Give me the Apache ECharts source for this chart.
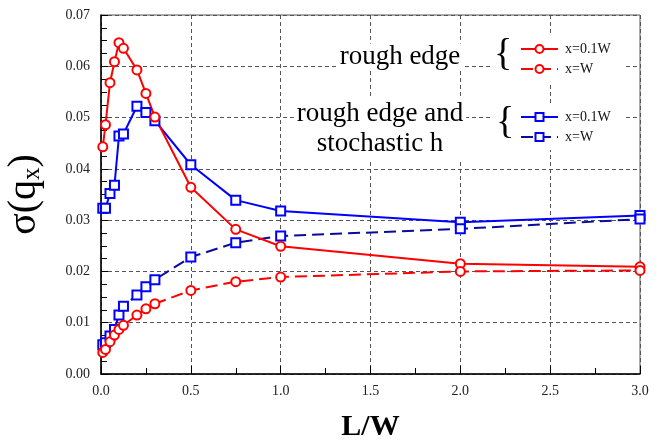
<!DOCTYPE html>
<html>
<head>
<meta charset="utf-8">
<script src="https://cdn.jsdelivr.net/npm/echarts@6/dist/echarts.min.js"></script>
<style>
  html, body { margin: 0; padding: 0; background: #fff; }
  #chart { width: 659px; height: 442px; }
</style>
</head>
<body>
<div id="chart"></div>
<script>
// Sampling positions along the channel, L/W
const lengths = [0.01, 0.025, 0.05, 0.075, 0.1, 0.125, 0.2, 0.25, 0.3, 0.5, 0.75, 1.0, 2.0, 3.0];

// sigma(q_x) for the rough-edge case
const roughNear = [0.0443, 0.0486, 0.0568, 0.0609, 0.0646, 0.0635, 0.0593, 0.0547, 0.0501, 0.0364, 0.0282, 0.0249, 0.0215, 0.0209];
const roughFar  = [0.0042, 0.0048, 0.0063, 0.0076, 0.0087, 0.0095, 0.0115, 0.0127, 0.0137, 0.0163, 0.0180, 0.0189, 0.0200, 0.0202];

// sigma(q_x) for rough edge plus stochastic thickness
const stochNear = [0.0323, 0.0323, 0.0352, 0.0368, 0.0464, 0.0468, 0.0522, 0.0510, 0.0494, 0.0408, 0.0339, 0.0318, 0.0296, 0.0309];
const stochFar  = [0.0057, 0.0061, 0.0074, 0.0087, 0.0115, 0.0132, 0.0154, 0.0170, 0.0184, 0.0228, 0.0256, 0.0269, 0.0283, 0.0302];

const groupLabels = ['rough edge', 'rough edge and\nstochastic h'];
const probeLabels = ['x=0.1W', 'x=W'];

const serif = '"Liberation Serif", "Times New Roman", serif';
const RED = '#ff0000';
const BLUE = '#0000ff';
const NAVY = '#0a0a9c';

const pairs = arr => lengths.map((x, i) => [x, arr[i]]);

function makeSeries(name, values, color, lineColor, dashed, symbol) {
  return {
    name: name,
    type: 'line',
    data: pairs(values),
    symbol: symbol,
    symbolSize: 9,
    showAllSymbol: true,
    itemStyle: { color: color, borderColor: color, borderWidth: 2 },
    lineStyle: { color: lineColor, width: 2, type: dashed ? [12, 6] : 'solid' },
    emphasis: { disabled: true },
    z: 3
  };
}

const chart = echarts.init(document.getElementById('chart'));

const legendCommon = {
  orient: 'vertical',
  itemWidth: 37,
  itemHeight: 10,
  itemGap: 6,
  backgroundColor: '#fff',
  padding: [6, 14, 6, 30],
  textStyle: { fontFamily: serif, fontSize: 14, color: '#111', padding: [0, 0, 0, 2] },
  formatter: n => n.split(': ')[1],
  selectedMode: false
};

chart.setOption({
  animation: false,
  backgroundColor: '#fff',
  grid: {
    left: 101, right: 19, top: 15, bottom: 68,
    outerBoundsMode: 'none',
    containLabel: false,
    show: true, borderColor: '#555', borderWidth: 1
  },
  xAxis: {
    type: 'value',
    min: 0, max: 3, interval: 0.5,
    name: 'L/W',
    nameLocation: 'middle',
    nameGap: 38,
    nameTextStyle: { fontFamily: serif, fontSize: 30, fontWeight: 'bold', color: '#000' },
    axisLine: { lineStyle: { color: '#000', width: 1.5 } },
    axisTick: { inside: true, length: 8, lineStyle: { color: '#000' } },
    minorTick: { show: true, splitNumber: 2, length: 6, lineStyle: { color: '#000' } },
    axisLabel: { fontFamily: serif, fontSize: 14, color: '#222', margin: 10, formatter: v => v.toFixed(1) },
    splitLine: { show: true, lineStyle: { color: '#555', type: [4, 3], width: 1 } }
  },
  yAxis: {
    type: 'value',
    min: 0, max: 0.07, interval: 0.01,
    name: '{a|σ(q}{s|x}{a|)}',
    nameLocation: 'middle',
    nameGap: 56,
    nameRotate: 90,
    nameTextStyle: {
      rich: {
        a: { fontFamily: serif, fontSize: 40, color: '#000' },
        s: { fontFamily: serif, fontSize: 25, color: '#000', padding: [16, 0, 0, 0] }
      }
    },
    axisLine: { lineStyle: { color: '#000', width: 1.5 } },
    axisTick: { inside: true, length: 7, lineStyle: { color: '#000' } },
    minorTick: { show: true, splitNumber: 4, length: 6, lineStyle: { color: '#000' } },
    axisLabel: { fontFamily: serif, fontSize: 14, color: '#222', margin: 11, formatter: v => v.toFixed(2) },
    splitLine: { show: true, lineStyle: { color: '#555', type: [4, 3], width: 1 } }
  },
  legend: [
    Object.assign({}, legendCommon, {
      left: 490, top: 36,
      data: ['rough edge: ' + probeLabels[0], 'rough edge: ' + probeLabels[1]]
    }),
    Object.assign({}, legendCommon, {
      left: 490, top: 104,
      data: ['stochastic h: ' + probeLabels[0], 'stochastic h: ' + probeLabels[1]]
    })
  ],
  graphic: [
    {
      type: 'text', z: 10,
      style: {
        x: 400, y: 57, align: 'center', verticalAlign: 'middle',
        text: groupLabels[0], font: '27px ' + serif, fill: '#000',
        backgroundColor: '#fff', padding: [0, 3, 0, 3]
      }
    },
    {
      type: 'text', z: 10,
      style: {
        x: 380, y: 129, align: 'center', verticalAlign: 'middle',
        text: groupLabels[1], font: '27px ' + serif, fill: '#000',
        lineHeight: 30, backgroundColor: '#fff', padding: [0, 3, 0, 3]
      }
    },
    {
      type: 'text', left: 494, top: 36, z: 11,
      style: { text: '{', font: '38px ' + serif, fill: '#000' }
    },
    {
      type: 'text', left: 496, top: 104, z: 11,
      style: { text: '{', font: '38px ' + serif, fill: '#000' }
    }
  ],
  series: [
    makeSeries('stochastic h: ' + probeLabels[0], stochNear, BLUE, BLUE, false, 'emptyRect'),
    makeSeries('stochastic h: ' + probeLabels[1], stochFar, BLUE, NAVY, true, 'emptyRect'),
    makeSeries('rough edge: ' + probeLabels[0], roughNear, RED, RED, false, 'emptyCircle'),
    makeSeries('rough edge: ' + probeLabels[1], roughFar, RED, RED, true, 'emptyCircle')
  ]
});
</script>
</body>
</html>
